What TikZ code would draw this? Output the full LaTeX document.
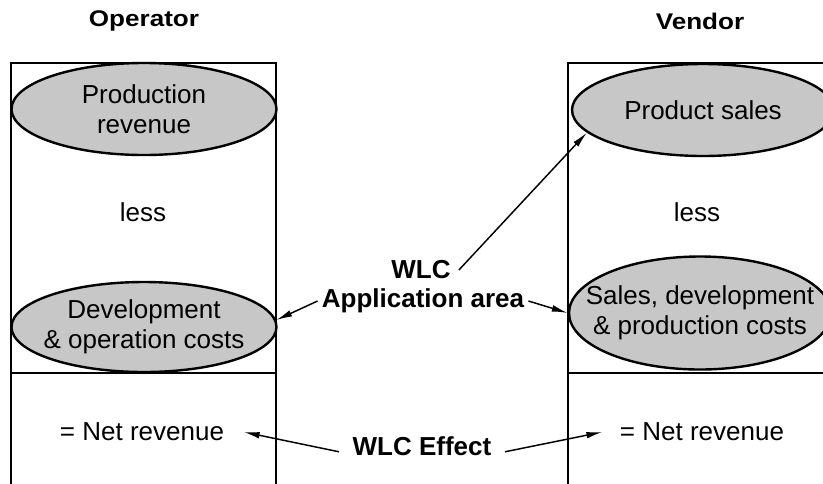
\documentclass[tikz,border=0pt]{standalone}
\usepackage{fontspec}
\setmainfont{Liberation Sans}
\newfontfamily\hdrfont[FakeStretch=1.15]{Liberation Sans}
\usetikzlibrary{shapes.geometric,arrows.meta}

\tikzset{
  frame/.style={line width=1.6pt},
  blob/.style={ellipse, draw, line width=1.8pt, fill=black!22, inner sep=0pt},
  blobtext/.style={inner sep=0pt, align=center, font=\fontsize{19.5pt}{22.5pt}\selectfont},
  plain/.style={inner sep=0pt, font=\fontsize{19.5pt}{22.5pt}\selectfont},
  lbl/.style={inner ysep=0pt, align=center, font=\fontsize{19.5pt}{23pt}\selectfont\bfseries},
  hdr/.style={inner sep=0pt, font=\hdrfont\fontsize{17pt}{19pt}\selectfont\bfseries},
  arr/.style={line width=1.1pt, -{Latex[length=12pt,width=5pt]}}
}

\begin{document}
\begin{tikzpicture}[x=0.75pt,y=-0.75pt]
\useasboundingbox (0,0) rectangle (823,483);
\clip (0,0) rectangle (823,483);

% column frames
\draw[frame] (11,490) -- (11,63) -- (276,63) -- (276,490);
\draw[frame] (11,373) -- (276,373);
\draw[frame] (568,490) -- (568,63) -- (840,63) -- (840,490);
\draw[frame] (568,373) -- (840,373);

% headings
\node[hdr] (hdrL) at (144,21) {Operator};
\node[hdr] (hdrR) at (700,21) {Vendor};

% operator column
\node[blob, minimum width=198.75pt, minimum height=69pt] (prodrev) at (144,109) {};
\node[blobtext] (prodrevtext) at (prodrev) {Production\\revenue};
\node[plain] (lessL) at (143,212) {less};
\node[blob, minimum width=198.75pt, minimum height=67.5pt] (devop) at (144,327) {};
\node[blobtext] (devoptext) at (devop) {Development\\\& operation costs};
\node[plain, inner xsep=14.5pt] (netL) at (142,432) {= Net revenue};

% vendor column
\node[blob, minimum width=196.5pt, minimum height=69pt] (prodsales) at (703,110) {};
\node[blobtext] (prodsalestext) at (prodsales) {Product sales};
\node[plain] (lessR) at (697,212) {less};
\node[blob, minimum width=196.5pt, minimum height=84.75pt] (salescosts) at (700,313) {};
\node[blobtext] (salescoststext) at (salescosts) {Sales, development\\\& production costs};
\node[plain, inner xsep=13pt] (netR) at (702,432) {= Net revenue};

% middle labels
\node[lbl, inner xsep=6pt] (wlc) at (421,270) {WLC};
\node[lbl, inner xsep=3pt] (app) at (423,301) {Application area};
\node[lbl, inner xsep=10pt] (effect) at (422,446) {WLC Effect};

% connectors
\draw[arr] (wlc.east) -- (prodsales.191);
\draw[arr] (app.west) -- (devop.3);
\draw[arr] (app.east) -- (salescosts.west);
\draw[arr] (effect.184) -- (netL.east);
\draw[arr] (effect.356) -- (netR.west);
\end{tikzpicture}
\end{document}
